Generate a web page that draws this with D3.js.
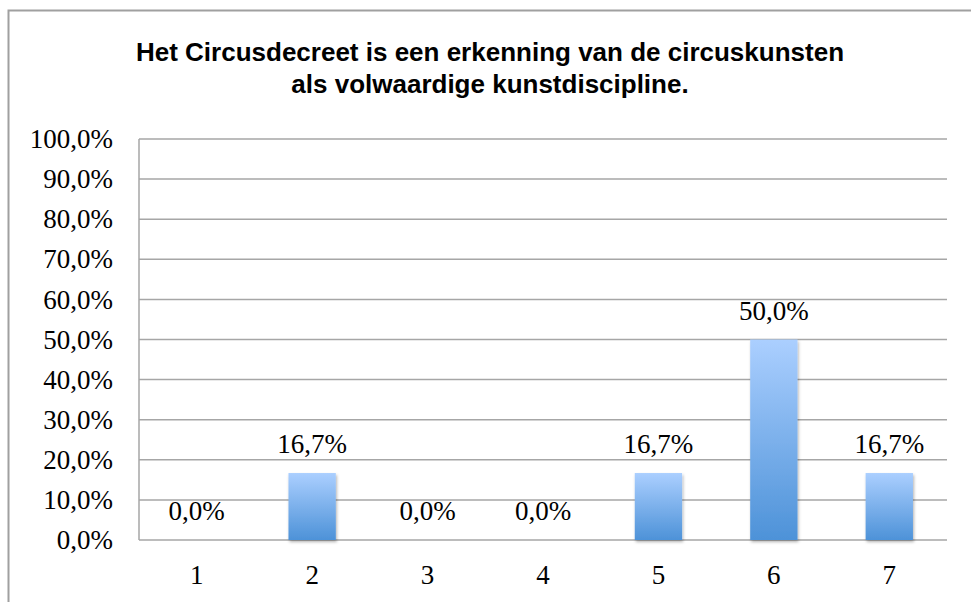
<!DOCTYPE html>
<html>
<head>
<meta charset="utf-8">
<script src="https://cdn.jsdelivr.net/npm/d3@7"></script>
<style>
  body { margin: 0; background: #fff; }
  svg { display: block; }
</style>
</head>
<body>
<svg id="chart" width="971" height="602"></svg>
<script>
const categories = ['1', '2', '3', '4', '5', '6', '7'];
const values = [0, 16.7, 0, 0, 16.7, 50.0, 16.7];
const yTicks = [0, 10, 20, 30, 40, 50, 60, 70, 80, 90, 100];
const titleLines = ['Het Circusdecreet is een erkenning van de circuskunsten', 'als volwaardige kunstdiscipline.'];

const width = 971, height = 602;
const margin = { top: 139, right: 24, bottom: 62, left: 139 };
const fmt = v => v.toFixed(1).replace('.', ',') + '%';

const svg = d3.select('#chart');

// gradient + shadow for the bars
const defs = svg.append('defs');
const grad = defs.append('linearGradient')
  .attr('id', 'barGrad').attr('x1', 0).attr('y1', 0).attr('x2', 0).attr('y2', 1);
grad.append('stop').attr('offset', '0%').attr('stop-color', '#abcfff');
grad.append('stop').attr('offset', '100%').attr('stop-color', '#4d92d8');
const shadow = defs.append('filter').attr('id', 'shadow')
  .attr('x', '-20%').attr('y', '-20%').attr('width', '140%').attr('height', '140%');
shadow.append('feDropShadow').attr('dx', 1).attr('dy', 2).attr('stdDeviation', 1.5)
  .attr('flood-color', '#000').attr('flood-opacity', 0.3);

// outer frame (left + top visible)
svg.append('path')
  .attr('d', `M8.5,${height} V10.5 H${width}`)
  .attr('fill', 'none').attr('stroke', '#a0a0a0').attr('stroke-width', 2);

// title
svg.append('text')
  .attr('text-anchor', 'middle')
  .attr('font-family', 'Liberation Sans, Arial, sans-serif')
  .attr('font-weight', 'bold').attr('font-size', 26)
  .selectAll('tspan').data(titleLines).join('tspan')
  .attr('x', 490).attr('y', (d, i) => 61 + i * 32)
  .text(d => d);

const x = d3.scaleBand()
  .domain(categories)
  .range([margin.left, width - margin.right])
  .paddingInner(0.59).paddingOuter(0.295);

const y = d3.scaleLinear()
  .domain([0, 100])
  .range([height - margin.bottom, margin.top]);

// gridlines
svg.append('g')
  .selectAll('line').data(yTicks).join('line')
  .attr('x1', margin.left).attr('x2', width - margin.right)
  .attr('y1', d => y(d)).attr('y2', d => y(d))
  .attr('stroke', '#a6a6a6').attr('stroke-width', 1.5);

// left axis line
svg.append('line')
  .attr('x1', margin.left).attr('x2', margin.left)
  .attr('y1', y(0)).attr('y2', y(100))
  .attr('stroke', '#a6a6a6').attr('stroke-width', 1.5);

// y axis labels
svg.append('g')
  .attr('transform', `translate(${margin.left},0)`)
  .call(d3.axisLeft(y).tickValues(yTicks).tickFormat(fmt).tickSize(0).tickPadding(26))
  .call(g => g.select('.domain').remove())
  .selectAll('text')
  .attr('font-family', 'Liberation Serif, Cambria, serif')
  .attr('font-size', 27).attr('fill', '#000');

// x axis labels
svg.append('g')
  .attr('transform', `translate(0,${y(0)})`)
  .call(d3.axisBottom(x).tickSize(0).tickPadding(25))
  .call(g => g.select('.domain').remove())
  .selectAll('text')
  .attr('font-family', 'Liberation Serif, Cambria, serif')
  .attr('font-size', 27).attr('fill', '#000');

// bars
svg.append('g')
  .selectAll('rect').data(values).join('rect')
  .attr('x', (d, i) => x(categories[i]))
  .attr('y', d => y(d))
  .attr('width', x.bandwidth())
  .attr('height', d => y(0) - y(d))
  .attr('fill', 'url(#barGrad)')
  .attr('filter', 'url(#shadow)');

// data labels
svg.append('g')
  .selectAll('text').data(values).join('text')
  .attr('x', (d, i) => x(categories[i]) + x.bandwidth() / 2)
  .attr('y', d => y(d) - 20)
  .attr('text-anchor', 'middle')
  .attr('font-family', 'Liberation Serif, Cambria, serif')
  .attr('font-size', 27)
  .text(fmt);
</script>
</body>
</html>
